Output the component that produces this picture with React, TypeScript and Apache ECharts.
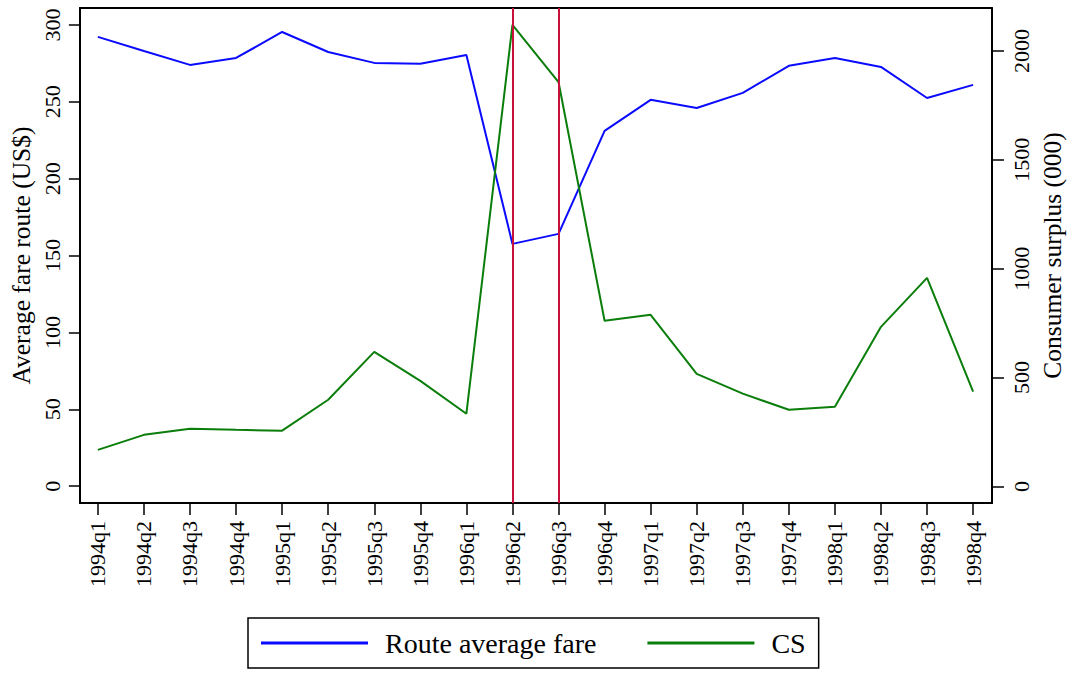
import React, { useEffect, useRef } from "react";
import * as echarts from "echarts";

const categories = [
  "1994q1", "1994q2", "1994q3", "1994q4",
  "1995q1", "1995q2", "1995q3", "1995q4",
  "1996q1", "1996q2", "1996q3", "1996q4",
  "1997q1", "1997q2", "1997q3", "1997q4",
  "1998q1", "1998q2", "1998q3", "1998q4",
];

const routeAverageFare = [
  292.2, 283, 274, 278.5, 295.4, 282.4, 275.3, 274.7, 280.5, 157.6,
  164.1, 231.1, 251.3, 246, 255.8, 273.4, 278.5, 272.7, 252.5, 261,
];

const consumerSurplus = [
  168, 237, 265, 260, 256, 398, 618, 485, 334, 2119,
  1857, 761, 788, 517, 426, 352, 366, 733, 958, 435,
];

const leftTicks = [0, 50, 100, 150, 200, 250, 300];
const rightTicks = [0, 500, 1000, 1500, 2000];
const eventQuarters = ["1996q2", "1996q3"];

const FONT = "'Liberation Serif', 'Times New Roman', serif";

export default function App() {
  const ref = useRef<HTMLDivElement>(null);

  useEffect(() => {
    if (!ref.current) return;
    const chart = echarts.init(ref.current, null, { renderer: "svg" });
    const idx = categories.map((_, i) => i);

    chart.setOption({
      animation: false,
      backgroundColor: "#ffffff",
      grid: { left: 78, right: 88, top: 8, bottom: 170, containLabel: false },
      xAxis: [
        {
          type: "value",
          min: -0.39,
          max: 19.41,
          position: "bottom",
          splitLine: { show: false },
          axisLine: { show: true, onZero: false, lineStyle: { color: "#000", width: 2 } },
          axisTick: {
            show: true,
            customValues: idx,
            length: 12,
            inside: false,
            lineStyle: { color: "#000", width: 1.5 },
          },
          axisLabel: {
            customValues: idx,
            rotate: 90,
            margin: 18,
            fontFamily: FONT,
            fontSize: 22,
            color: "#000",
            formatter: (v: number) => categories[Math.round(v)] ?? "",
          },
        },
        {
          type: "value",
          min: -0.39,
          max: 19.41,
          position: "top",
          splitLine: { show: false },
          axisLine: { show: true, onZero: false, lineStyle: { color: "#000", width: 2 } },
          axisTick: { show: false },
          axisLabel: { show: false },
        },
      ],
      yAxis: [
        {
          type: "value",
          min: -10.9,
          max: 311,
          position: "left",
          splitLine: { show: false },
          axisLine: { show: true, onZero: false, lineStyle: { color: "#000", width: 2 } },
          axisTick: {
            show: true,
            customValues: leftTicks,
            length: 11,
            lineStyle: { color: "#000", width: 1.5 },
          },
          axisLabel: {
            customValues: leftTicks,
            rotate: 90,
            margin: 16,
            fontFamily: FONT,
            fontSize: 22,
            color: "#000",
            formatter: (v: number) => String(v),
          },
          name: "Average fare route (US$)",
          nameLocation: "middle",
          nameRotate: 90,
          nameGap: 44,
          nameTextStyle: { fontFamily: FONT, fontSize: 25.5, color: "#000" },
        },
        {
          type: "value",
          min: -76,
          max: 2197,
          position: "right",
          splitLine: { show: false },
          axisLine: { show: true, onZero: false, lineStyle: { color: "#000", width: 2 } },
          axisTick: {
            show: true,
            customValues: rightTicks,
            length: 12,
            lineStyle: { color: "#000", width: 1.5 },
          },
          axisLabel: {
            customValues: rightTicks,
            rotate: 90,
            margin: 18,
            fontFamily: FONT,
            fontSize: 22,
            color: "#000",
            formatter: (v: number) => String(v),
          },
          name: "Consumer surplus (000)",
          nameLocation: "middle",
          nameRotate: 90,
          nameGap: 46,
          nameTextStyle: { fontFamily: FONT, fontSize: 25.5, color: "#000" },
        },
      ],
      legend: {
        left: 248,
        top: 618,
        orient: "horizontal",
        icon: "rect",
        itemWidth: 107,
        itemHeight: 3,
        itemGap: 51,
        padding: [11, 13, 11, 13],
        borderColor: "#000",
        borderWidth: 1.5,
        textStyle: {
          fontFamily: FONT,
          fontSize: 28,
          color: "#000",
          padding: [0, 0, 0, 12],
        },
        data: ["Route average fare", "CS"],
      },
      series: [
        {
          name: "events",
          type: "line",
          data: [],
          xAxisIndex: 0,
          yAxisIndex: 0,
          z: 1,
          markLine: {
            silent: true,
            symbol: "none",
            label: { show: false },
            lineStyle: { color: "#c8103c", width: 2, type: "solid" },
            data: eventQuarters.map((q) => ({ xAxis: categories.indexOf(q) })),
          },
        },
        {
          name: "Route average fare",
          type: "line",
          xAxisIndex: 0,
          yAxisIndex: 0,
          z: 3,
          color: "#0a0aff",
          showSymbol: false,
          symbol: "none",
          lineStyle: { color: "#0a0aff", width: 2 },
          data: routeAverageFare.map((v, i) => [i, v]),
        },
        {
          name: "CS",
          type: "line",
          xAxisIndex: 0,
          yAxisIndex: 1,
          z: 4,
          color: "#0a7d0a",
          showSymbol: false,
          symbol: "none",
          lineStyle: { color: "#0a7d0a", width: 2 },
          data: consumerSurplus.map((v, i) => [i, v]),
        },
      ],
    });

    return () => chart.dispose();
  }, []);

  return (
    <div
      ref={ref}
      style={{ position: "fixed", left: 0, top: 0, width: 1080, height: 673 }}
    />
  );
}
